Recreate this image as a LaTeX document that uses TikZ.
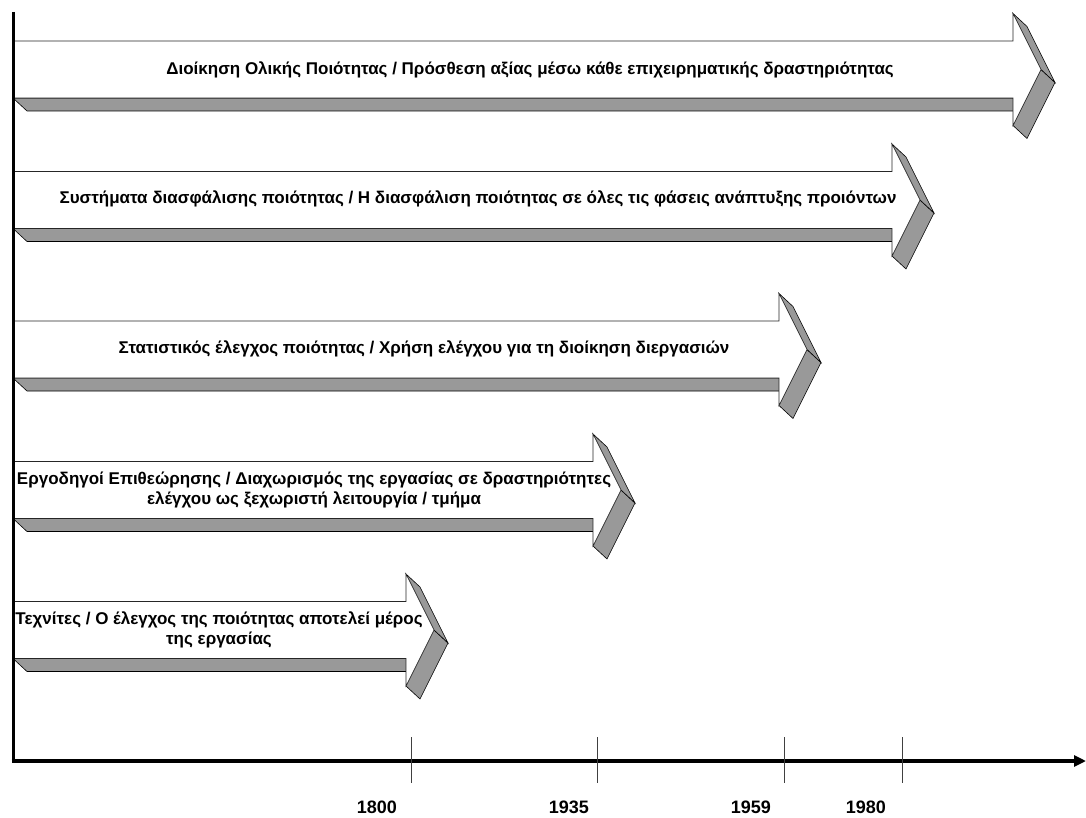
\documentclass[tikz,border=0pt]{standalone}
\usepackage{fontspec}
\setmainfont{Liberation Sans}
\usetikzlibrary{arrows.meta}
\definecolor{sidegray}{RGB}{153,153,153}
\tikzset{
  face/.style={fill=white, draw=black!85, line width=0.6pt, line join=miter},
  side/.style={fill=sidegray, draw=black, line width=0.6pt, line join=miter},
  stagetext/.style={font=\bfseries\fontsize{17}{20.5}\selectfont, align=center, inner sep=0pt},
  yeartext/.style={font=\bfseries\fontsize{18}{20}\selectfont, inner sep=0pt},
  axisline/.style={line width=3.5pt},
  tickline/.style={black!75, line width=0.8pt}
}
% 3-D block arrow: #1 = centre line y, #2 = x of the head's notch
\newcommand\stagearrow[2]{%
  \begin{scope}[shift={(0,#1)}]
    % underside of the shaft
    \path[side] (13,28.5) -- (#2,28.5) -- (#2+14,41.5) -- (27,41.5) -- cycle;
    % lower face of the head
    \path[side] (#2,56) -- (#2+28,0) -- (#2+42,13) -- (#2+14,69) -- cycle;
    % upper face of the head
    \path[side] (#2,-56) -- (#2+14,-43) -- (#2+42,13) -- (#2+28,0) -- cycle;
    % front face
    \path[face] (13,-28.5) -- (#2,-28.5) -- (#2,-56) -- (#2+28,0)
      -- (#2,56) -- (#2,28.5) -- (13,28.5) -- cycle;
  \end{scope}}
\begin{document}
\begin{tikzpicture}[x=1pt,y=-1pt]
  \useasboundingbox (0,0) rectangle (1086,818);

  \stagearrow{69.5}{1013}
  \stagearrow{200}{892}
  \stagearrow{349.5}{779}
  \stagearrow{490}{593}
  \stagearrow{630}{406}

  \node[stagetext] (t1) at (530,70) {Διοίκηση Ολικής Ποιότητας / Πρόσθεση αξίας μέσω κάθε επιχειρηματικής δραστηριότητας};
  \node[stagetext] (t2) at (478,199) {Συστήματα διασφάλισης ποιότητας / Η διασφάλιση ποιότητας σε όλες τις φάσεις ανάπτυξης προιόντων};
  \node[stagetext] (t3) at (424,349) {Στατιστικός έλεγχος ποιότητας / Χρήση ελέγχου για τη διοίκηση διεργασιών};
  \node[stagetext] (t4) at (314,490) {Εργοδηγοί Επιθεώρησης / Διαχωρισμός της εργασίας σε δραστηριότητες\\ελέγχου ως ξεχωριστή λειτουργία / τμήμα};
  \node[stagetext] (t5) at (219,630) {Τεχνίτες / Ο έλεγχος της ποιότητας αποτελεί μέρος\\της εργασίας};

  % time axes
  \coordinate (top) at (13,12);
  \coordinate (origin) at (13,761);
  \coordinate (end) at (1086,761);
  \draw[line width=3pt] (top) -- (origin);
  \draw[axisline, -{Triangle[length=12pt,width=11pt]}] ([xshift=-1.5pt]origin) -- (end);

  % year ticks
  \foreach \n/\x in {a/411,b/597,c/784,d/902}{
    \coordinate (\n1) at (\x,737);
    \coordinate (\n2) at (\x,783);
    \draw[tickline] (\n1) -- (\n2);
  }
  \node[yeartext, anchor=east] (y1) at (397,807) {1800};
  \node[yeartext, anchor=east] (y2) at (589,807) {1935};
  \node[yeartext, anchor=east] (y3) at (771,807) {1959};
  \node[yeartext, anchor=east] (y4) at (886,807) {1980};
\end{tikzpicture}
\end{document}
